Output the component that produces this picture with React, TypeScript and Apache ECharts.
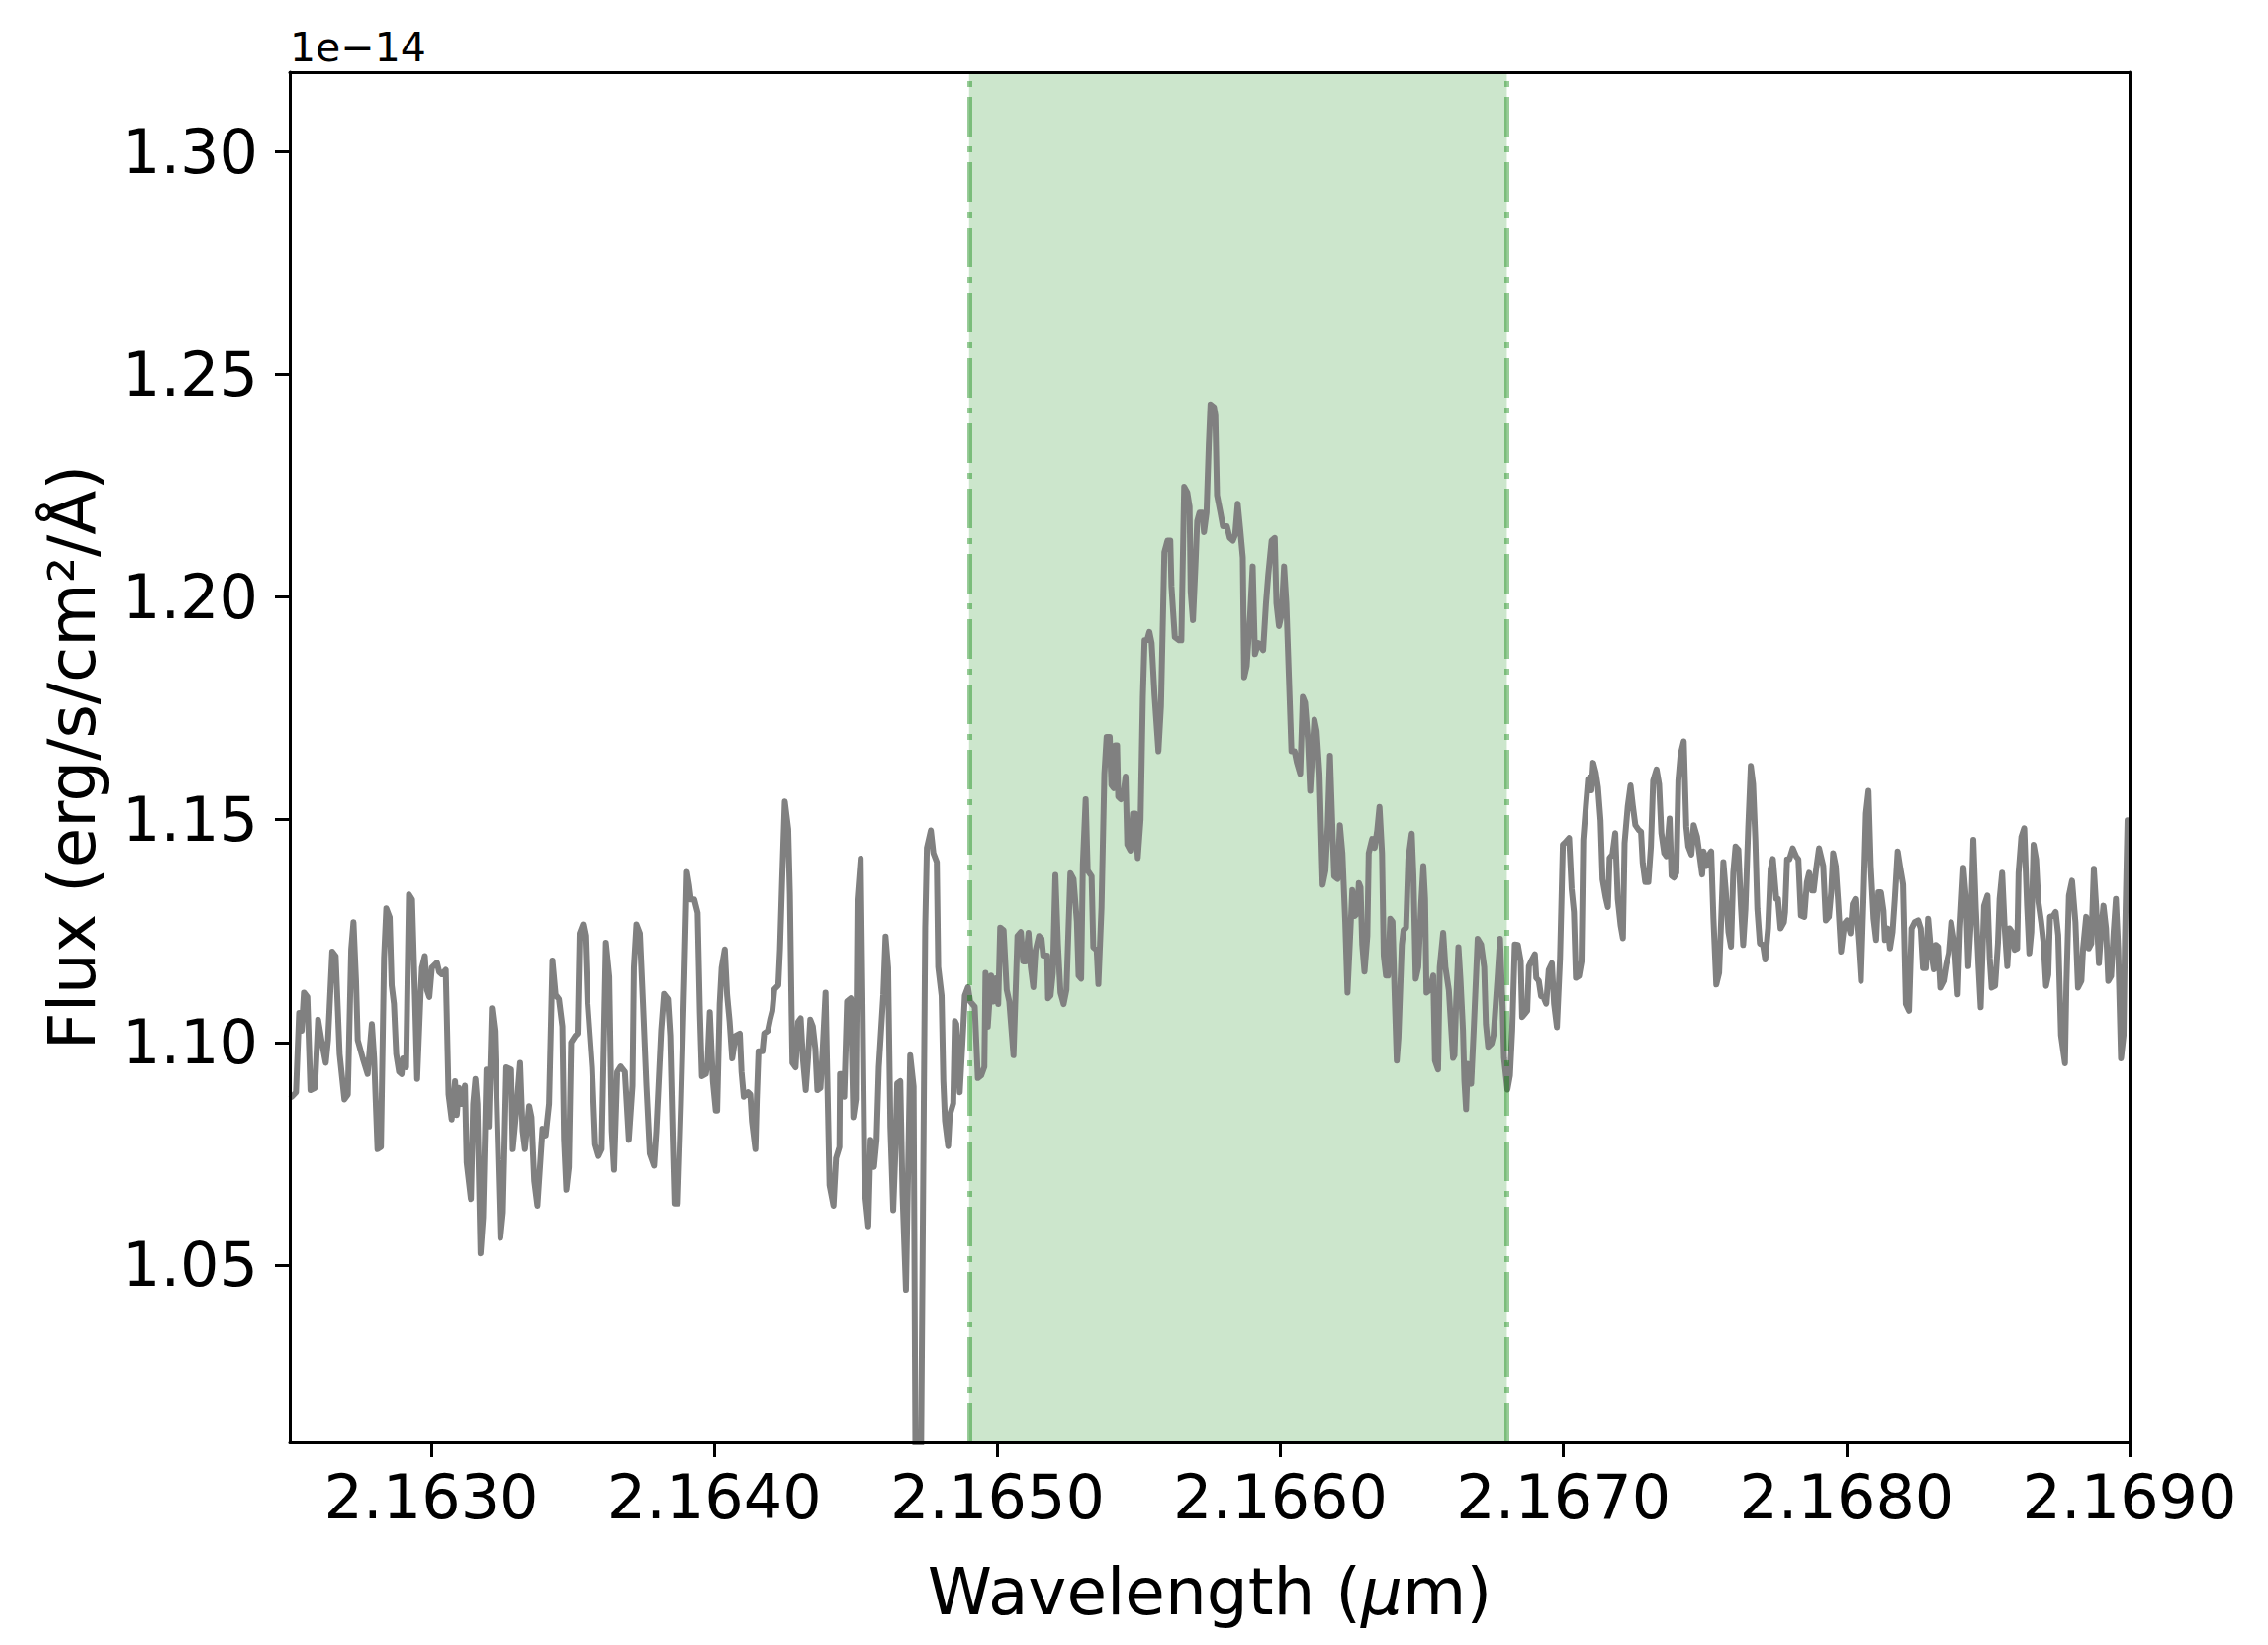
import React, { useEffect, useRef } from "react";
import * as echarts from "echarts";

// Wavelength (µm) and flux (units of 1e-14 erg/s/cm^2/Å)
const wavelength = [
  2.162507, 2.162522, 2.162533, 2.162542, 2.16255, 2.162562, 2.162573, 2.162589, 2.1626, 2.162612,
  2.162627, 2.162635, 2.16265, 2.162662, 2.162676, 2.162693, 2.162705, 2.162717, 2.162725, 2.162734,
  2.16274, 2.162758, 2.162775, 2.16279, 2.162798, 2.16281, 2.162822, 2.162833, 2.162841, 2.162853,
  2.16286, 2.162868, 2.162876, 2.162886, 2.162895, 2.1629, 2.162911, 2.162921, 2.162932, 2.162942,
  2.16295, 2.162962, 2.162967, 2.162977, 2.162985, 2.162993, 2.163002, 2.16302, 2.163028, 2.163037,
  2.163051, 2.163061, 2.163072, 2.163084, 2.16309, 2.163098, 2.163107, 2.163119, 2.163125, 2.16314,
  2.163148, 2.163156, 2.163163, 2.163174, 2.163183, 2.163195, 2.163203, 2.163214, 2.163224, 2.163244,
  2.163253, 2.163265, 2.163282, 2.163288, 2.1633, 2.163314, 2.163323, 2.163331, 2.163346, 2.163354,
  2.163364, 2.163375, 2.163393, 2.163404, 2.163416, 2.163428, 2.163439, 2.163451, 2.163463, 2.163469,
  2.163477, 2.163486, 2.163494, 2.163509, 2.163517, 2.163524, 2.163536, 2.163544, 2.163552, 2.163568,
  2.163579,
  2.163591, 2.163602, 2.163617, 2.163629, 2.163638, 2.163646, 2.163657, 2.163669, 2.163684, 2.163698,
  2.163711, 2.163716, 2.163725, 2.163737, 2.163748, 2.16376, 2.163772, 2.163787, 2.163795, 2.163812,
  2.163822, 2.163836, 2.163844, 2.163853, 2.163859, 2.163871, 2.163882, 2.163894, 2.163903, 2.163911,
  2.163917, 2.163929, 2.163941, 2.163949, 2.163956, 2.16397, 2.163976, 2.163984, 2.163995, 2.164005,
  2.16401, 2.164019, 2.164026, 2.164037, 2.164045, 2.164054, 2.164063, 2.164075, 2.16409, 2.164096,
  2.164104, 2.164119, 2.164127, 2.164133, 2.164145, 2.16415, 2.164156, 2.16417, 2.164176, 2.164189,
  2.164197, 2.164205, 2.164212, 2.164226, 2.164232, 2.16424, 2.164249, 2.164261, 2.164267, 2.164273,
  2.164276, 2.164287, 2.164296, 2.164305, 2.164313, 2.164323, 2.164331, 2.164339, 2.164348, 2.164357,
  2.164364, 2.164375, 2.164383, 2.164393, 2.164401, 2.164407, 2.164421, 2.16443, 2.164442, 2.164444,
  2.164453, 2.164459, 2.164469, 2.164482, 2.164491, 2.1645, 2.164506, 2.164517, 2.164523, 2.164531,
  2.164544, 2.164552, 2.164564, 2.164573, 2.164581, 2.164597, 2.164605, 2.164614, 2.164622, 2.164632,
  2.16464, 2.164646, 2.164657, 2.164665, 2.164677,
  2.164692, 2.164704, 2.164711, 2.16472, 2.16473, 2.164745, 2.164751, 2.164765, 2.164774, 2.164786,
  2.164791, 2.164803, 2.164809, 2.164815, 2.164826, 2.164832, 2.164844, 2.16485, 2.164855, 2.164867,
  2.164879, 2.164885, 2.164896, 2.164904, 2.16492, 2.164931, 2.164943, 2.164954, 2.164958, 2.164966,
  2.164978, 2.164986, 2.164995, 2.165003, 2.16501, 2.165022, 2.165033, 2.165042, 2.165057, 2.165071,
  2.165083, 2.165091, 2.1651, 2.16511, 2.165118, 2.165127, 2.165135, 2.165147, 2.165156, 2.165162,
  2.165176, 2.165179, 2.165188, 2.165196, 2.165205, 2.165214, 2.165223, 2.165234, 2.165244, 2.165258,
  2.165269, 2.165281, 2.165287, 2.165296, 2.165302, 2.165312, 2.165319, 2.165333, 2.165339, 2.165351,
  2.165357, 2.165368, 2.165378, 2.165386, 2.165397, 2.165403, 2.165411, 2.165417, 2.165423, 2.165427,
  2.165436, 2.165444, 2.165453, 2.165459, 2.16547, 2.165479, 2.165487, 2.165496, 2.165506, 2.165514,
  2.16552, 2.165529, 2.165537, 2.165545, 2.165555, 2.165569, 2.165578, 2.16559, 2.165601, 2.165611,
  2.165615, 2.165627, 2.165642, 2.16565, 2.16566, 2.165671, 2.165679, 2.165683, 2.165691, 2.1657,
  2.165706, 2.165714, 2.165724, 2.16573, 2.165739, 2.165747, 2.165753, 2.165765,
  2.16577, 2.165776, 2.165788, 2.165797, 2.165811, 2.165821, 2.165832, 2.16584, 2.165849, 2.165858,
  2.165867, 2.165872, 2.165881, 2.165893, 2.165902, 2.16591, 2.165922, 2.165939, 2.165949, 2.165957,
  2.165969, 2.16598, 2.165986, 2.165995, 2.166004, 2.166013, 2.166021, 2.16603, 2.166039, 2.16605,
  2.166058, 2.16607, 2.166079, 2.166087, 2.166097, 2.166105, 2.166112, 2.16612, 2.166128, 2.166138,
  2.166149, 2.166159, 2.166167, 2.166175, 2.166184, 2.16619, 2.166202, 2.16621, 2.166219, 2.166229,
  2.166237, 2.166245, 2.166254, 2.166263, 2.166272, 2.166277, 2.166283, 2.166289, 2.166297, 2.166307,
  2.166312, 2.166324, 2.166333, 2.166342, 2.16635, 2.166359, 2.166365, 2.166373, 2.16638, 2.166388,
  2.166396, 2.166403, 2.166411, 2.166417, 2.166429, 2.166435, 2.166444, 2.166452, 2.166464, 2.16647,
  2.166478, 2.166487, 2.166497, 2.166505, 2.166511, 2.166516, 2.166528, 2.16654, 2.166546, 2.166557,
  2.166563, 2.166575, 2.166583, 2.166595, 2.16661, 2.166615, 2.166621, 2.166629, 2.166636, 2.166645,
  2.16665, 2.166656, 2.166662, 2.166674, 2.166683, 2.166697, 2.166709, 2.16672, 2.166726, 2.166734,
  2.166746, 2.166753, 2.166767, 2.166776, 2.166785, 2.16679, 2.166802, 2.166811, 2.166819, 2.166828,
  2.166839, 2.166849, 2.166854, 2.166863, 2.166872, 2.166878, 2.166889, 2.166899, 2.166904, 2.166913,
  2.166921, 2.16693, 2.166939, 2.166948, 2.166959, 2.166967, 2.166977, 2.166988, 2.166998, 2.167009,
  2.16702, 2.167029, 2.167037, 2.167044, 2.167055, 2.167064, 2.16707, 2.167079, 2.167087, 2.167093,
  2.167099, 2.167105, 2.167114, 2.167122, 2.167131, 2.167138, 2.167149, 2.167157, 2.167163, 2.167173,
  2.167183, 2.167192, 2.167202, 2.16721, 2.167216, 2.167227, 2.167237, 2.167245, 2.167254, 2.167266,
  2.167274, 2.16728, 2.167289, 2.1673, 2.167309, 2.167317, 2.167329, 2.167338, 2.167346, 2.167356,
  2.167364, 2.167375, 2.167382, 2.16739, 2.167399, 2.167406, 2.167414, 2.167425, 2.167434, 2.167441,
  2.167452, 2.16746, 2.167472, 2.16748, 2.16749, 2.167495, 2.167505, 2.167515, 2.167522, 2.16753,
  2.16754, 2.16755, 2.167557, 2.167565, 2.167573, 2.167583, 2.167592, 2.1676, 2.167608, 2.167618,
  2.167627, 2.167635, 2.167643, 2.167653, 2.167662, 2.16767, 2.167678, 2.167685, 2.167694, 2.167705,
  2.167713, 2.167723, 2.167732, 2.16774, 2.167752, 2.167758, 2.167767, 2.167779, 2.167783, 2.16779,
  2.167798, 2.16781, 2.167822, 2.16783, 2.167839, 2.167851, 2.16786, 2.167868, 2.167878, 2.167884,
  2.167892, 2.167903,
  2.167918, 2.167927, 2.167938, 2.167946, 2.167953, 2.167962, 2.16797, 2.167981, 2.167993, 2.168002,
  2.168014, 2.168022, 2.168031, 2.168043, 2.168051, 2.168061, 2.168069, 2.168078, 2.168086, 2.168096,
  2.168105, 2.168113, 2.168122, 2.168131, 2.168136, 2.168146, 2.168154, 2.168163, 2.168171, 2.168181,
  2.168189, 2.1682, 2.16821, 2.168221, 2.16823, 2.168241, 2.168253, 2.168262, 2.16827, 2.16828,
  2.168288, 2.168297, 2.168308, 2.168315, 2.168323, 2.168331, 2.168343, 2.168352, 2.168361, 2.16837,
  2.168381, 2.168393, 2.168401, 2.168413, 2.168422, 2.16843, 2.168439, 2.168448, 2.168457, 2.168466,
  2.168474, 2.168486, 2.168498, 2.168506, 2.168513, 2.168525, 2.168535, 2.168541, 2.16855, 2.168559,
  2.168568, 2.168576, 2.168585, 2.168594, 2.168603, 2.168608, 2.168618, 2.168628, 2.168638, 2.168646,
  2.168653, 2.168661, 2.16867, 2.168678, 2.168688, 2.168696, 2.168705, 2.168713, 2.168719, 2.168731,
  2.168739, 2.168748, 2.168758, 2.168772, 2.168777, 2.168786, 2.168797, 2.168809, 2.168818, 2.16883,
  2.168836, 2.168847, 2.168856, 2.168865, 2.168874, 2.168882, 2.168892, 2.1689, 2.168908, 2.168917,
  2.168925, 2.168935, 2.168944, 2.168952, 2.16896, 2.16897, 2.168979, 2.168984, 2.168993,
];

const flux = [
  1.0878, 1.0888, 1.1066, 1.1026, 1.1112, 1.1102, 1.0893, 1.0898, 1.1051, 1.1005,
  1.0954, 1.1005, 1.1204, 1.1194, 1.0974, 1.0872, 1.0883, 1.1209, 1.127, 1.1138,
  1.1005, 1.0964, 1.0929, 1.1041, 1.0964, 1.076, 1.0765, 1.1189, 1.1301, 1.1281,
  1.1128, 1.1087, 1.0974, 1.0934, 1.0929, 1.0964, 1.0944, 1.1332, 1.1321, 1.1107,
  1.0918, 1.1107, 1.1168, 1.1194, 1.1117, 1.1102, 1.1168, 1.1179, 1.1158, 1.1153,
  1.1163, 1.0883, 1.0827, 1.0913, 1.0837, 1.0898, 1.0862, 1.0903, 1.073, 1.0648,
  1.0862, 1.0918, 1.0862, 1.0526, 1.0607, 1.0939, 1.0811, 1.1077, 1.1026, 1.0561,
  1.0618, 1.0944, 1.0939, 1.076, 1.0842, 1.0954, 1.0801, 1.076, 1.0857, 1.0832,
  1.0689, 1.0633, 1.0806, 1.0791, 1.0862, 1.1184, 1.1107, 1.1097, 1.1036, 1.0781,
  1.0669, 1.072, 1.1, 1.1015, 1.102, 1.1245, 1.1265, 1.124, 1.1087, 1.0944,
  1.0771,
  1.0745, 1.076, 1.1224, 1.1148, 1.0801, 1.0714, 1.0934, 1.0946, 1.0934, 1.0781,
  1.0903, 1.1168, 1.1265, 1.1245, 1.1087, 1.0903, 1.075, 1.0723, 1.0801, 1.1026,
  1.1109, 1.1097, 1.1015, 1.0781, 1.0638, 1.0638, 1.0862, 1.1148, 1.1383, 1.1352,
  1.1321, 1.1321, 1.1291, 1.1066, 1.0924, 1.0929, 1.0954, 1.1068, 1.0913, 1.0847,
  1.0847, 1.1087, 1.1168, 1.1209, 1.1107, 1.1046, 1.0964, 1.1015, 1.102, 1.0934,
  1.0878, 1.0888, 1.0883, 1.0822, 1.076, 1.0872, 1.098, 1.098, 1.102, 1.1026,
  1.1051, 1.1071, 1.1119, 1.1128, 1.1209, 1.1372, 1.1541, 1.1479, 1.1332, 1.1066,
  1.0954, 1.0944, 1.1046, 1.1054, 1.0964, 1.0893, 1.0964, 1.1051, 1.1036, 1.0985,
  1.0893, 1.0898, 1.0985, 1.1112, 1.0862, 1.0679, 1.0633, 1.074, 1.0765, 1.0929,
  1.0929, 1.0878, 1.1092, 1.1099, 1.0832, 1.0872, 1.1321, 1.1413, 1.1117, 1.0668,
  1.0587, 1.0781, 1.072, 1.0781, 1.0944, 1.1107, 1.1238, 1.1168, 1.0811, 1.0623,
  1.076, 1.0908, 1.0913, 1.0658, 1.0444,
  1.0971, 1.0901, 1.0, 0.992, 1.005, 1.1258, 1.1437, 1.1476, 1.1425, 1.1405,
  1.1169, 1.1105, 1.0914, 1.0824, 1.0767, 1.0837, 1.0863, 1.1048, 1.1041, 1.0888,
  1.1028, 1.1105, 1.1124, 1.1092, 1.108, 1.092, 1.0926, 1.0945, 1.1156, 1.1035,
  1.115, 1.1092, 1.1144, 1.1086, 1.1258, 1.1252, 1.1118, 1.1092, 1.0971, 1.1239,
  1.1248, 1.1182, 1.1182, 1.1246, 1.1169, 1.1124, 1.1207, 1.1239, 1.1233, 1.1195,
  1.1195, 1.1099, 1.1105, 1.1156, 1.1376, 1.122, 1.1112, 1.1086, 1.1118, 1.138,
  1.1367, 1.1271, 1.115, 1.1143, 1.1399, 1.1546, 1.1386, 1.1373, 1.1214, 1.1207,
  1.1131, 1.1303, 1.1603, 1.1686, 1.1686, 1.1578, 1.1571, 1.1667, 1.1667, 1.1552,
  1.1546, 1.1552, 1.1597, 1.1444, 1.1431, 1.1514, 1.1514, 1.1414, 1.1501, 1.1776,
  1.1903, 1.1903, 1.1922, 1.1897, 1.1782, 1.1654, 1.1756, 1.2101, 1.2127, 1.2127,
  1.2025, 1.191, 1.1903, 1.1903, 1.2248, 1.2235, 1.2203, 1.2012, 1.1948, 1.2075,
  1.2171, 1.219, 1.219, 1.2146, 1.219, 1.2344, 1.2433, 1.2427,
  1.2408, 1.2229, 1.219, 1.2159, 1.2159, 1.2133, 1.2127, 1.214, 1.221, 1.2152,
  1.2089, 1.182, 1.1846, 1.1961, 1.2069, 1.1872, 1.1897, 1.1881, 1.1986, 1.205,
  1.2127, 1.2133, 1.1986, 1.1935, 1.1961, 1.2069, 1.1986, 1.182, 1.1654, 1.1654,
  1.1629, 1.1603, 1.1776, 1.1763, 1.168, 1.1565, 1.1642, 1.1725, 1.1699, 1.1603,
  1.1354, 1.1386, 1.1488, 1.1644, 1.1476, 1.1373, 1.1367, 1.1488, 1.1425, 1.1271,
  1.1112, 1.122, 1.1342, 1.1284, 1.1291, 1.1358, 1.1348, 1.122, 1.1159, 1.1239,
  1.1425, 1.1457, 1.1437, 1.1476, 1.1529, 1.1425, 1.1195, 1.115, 1.115, 1.1278,
  1.1271, 1.1118, 1.0959, 1.101, 1.122, 1.1252, 1.1258, 1.1412, 1.1469, 1.1373,
  1.1143, 1.1169, 1.1309, 1.1396, 1.1322, 1.1112, 1.1118, 1.115, 1.0959, 1.0939,
  1.1169, 1.1246, 1.1169, 1.1118, 1.0965, 1.0971, 1.1092, 1.1214, 1.1143, 1.1028,
  1.0914, 1.085, 1.0952, 1.0907, 1.1028, 1.1233, 1.122, 1.1169, 1.1041, 1.099,
  1.0997, 1.1016, 1.1143, 1.1233, 1.108, 1.0965, 1.0894, 1.0926, 1.1028, 1.122,
  1.1219, 1.1182, 1.1057, 1.1064, 1.1071, 1.1171, 1.1186, 1.1198, 1.1145, 1.1138,
  1.1104, 1.1101, 1.1087, 1.1163, 1.1178, 1.1086, 1.1034, 1.1189, 1.1444, 1.1451,
  1.1459, 1.1344, 1.1293, 1.1145, 1.1149, 1.1182, 1.1455, 1.1529, 1.1591, 1.1595,
  1.1566, 1.1628, 1.1606, 1.1573, 1.1499, 1.1366, 1.1326, 1.1304, 1.1414, 1.1422,
  1.147, 1.1322, 1.1263, 1.1234, 1.1448, 1.1529, 1.1577, 1.1532, 1.1488, 1.1477,
  1.1473, 1.1403, 1.136, 1.136, 1.144, 1.1588, 1.1613, 1.158, 1.147, 1.1425,
  1.1418, 1.1503, 1.1374, 1.137, 1.1381, 1.1588, 1.1647, 1.1676, 1.1484, 1.144,
  1.1422, 1.1488, 1.1462, 1.1425, 1.1377, 1.1429, 1.1396, 1.1422, 1.1429, 1.1278,
  1.113, 1.1156, 1.127, 1.1405, 1.1344, 1.1248, 1.1215, 1.1381, 1.144, 1.1433,
  1.1307, 1.1219, 1.13, 1.1484, 1.1621, 1.158, 1.1455, 1.13, 1.1222, 1.1219,
  1.1186, 1.1256, 1.1389, 1.1412, 1.1322, 1.1322, 1.1256, 1.127, 1.1293, 1.1411,
  1.1411, 1.1436, 1.1418, 1.1411, 1.1285, 1.1282, 1.1359, 1.1381, 1.1341, 1.1341,
  1.1385, 1.1436,
  1.1396, 1.1274, 1.1282, 1.1337, 1.1425, 1.1396, 1.1322, 1.1204, 1.1267, 1.1274,
  1.1245, 1.1311, 1.1322, 1.1219, 1.1138, 1.1337, 1.1514, 1.1565, 1.1396, 1.1278,
  1.123, 1.1337, 1.1337, 1.1296, 1.123, 1.1256, 1.1211, 1.1248, 1.1322, 1.1429,
  1.1396, 1.1355, 1.1086, 1.1071, 1.1256, 1.127, 1.1274, 1.1256, 1.1167, 1.1167,
  1.1278, 1.1211, 1.1164, 1.1219, 1.1215, 1.1123, 1.1138, 1.1175, 1.12, 1.127,
  1.1226, 1.1108, 1.1256, 1.1392, 1.1322, 1.1171, 1.127, 1.1455, 1.13, 1.1175,
  1.1079, 1.1307, 1.133, 1.1189, 1.1123, 1.1127, 1.1222, 1.1322, 1.1381, 1.1256,
  1.1171, 1.1256, 1.1248, 1.1208, 1.1211, 1.1381, 1.1462, 1.1481, 1.1307, 1.12,
  1.1248, 1.1444, 1.1411, 1.1315, 1.127, 1.1226, 1.1127, 1.1152, 1.1282, 1.1285,
  1.1293, 1.1241, 1.1016, 1.0953, 1.113, 1.133, 1.1363, 1.127, 1.1123, 1.1138,
  1.1211, 1.1282, 1.1211, 1.1222, 1.139, 1.1307, 1.1178, 1.1252, 1.1307, 1.1256,
  1.1138, 1.1149, 1.1248, 1.1322, 1.1211, 1.0964, 1.1016, 1.1234, 1.1499,
];

const xTicks = [2.163, 2.164, 2.165, 2.166, 2.167, 2.168, 2.169];
const yTicks = [1.05, 1.1, 1.15, 1.2, 1.25, 1.3];
const xRange = [2.1625, 2.169];
const yRange = [1.0102, 1.3179];
const bandEdges = [2.1649, 2.1668];

const FONT = "DejaVu Sans";

export default function App() {
  const ref = useRef<HTMLDivElement>(null);

  useEffect(() => {
    if (!ref.current) return;
    const chart = echarts.init(ref.current, null, { renderer: "svg" });
    const spectrum = wavelength.map((w, i) => [w, flux[i]]);

    const gridL = 293, gridT = 73, gridW = 1860, gridH = 1385;

    const spine = { show: true, lineStyle: { color: "#000", width: 3 } };
    const hidden = { show: false };

    const option: any = {
      animation: false,
      backgroundColor: "#fff",
      grid: { left: gridL, top: gridT, width: gridW, height: gridH, containLabel: false },
      xAxis: [
        {
          type: "value",
          min: xRange[0],
          max: xRange[1],
          position: "bottom",
          z: 10,
          axisLine: spine,
          axisTick: {
            show: true,
            inside: false,
            length: 15,
            lineStyle: { color: "#000", width: 3 },
            customValues: xTicks,
          },
          axisLabel: {
            show: true,
            margin: 24,
            fontSize: 62,
            fontFamily: FONT,
            color: "#000",
            customValues: xTicks,
            formatter: (v: number) => v.toFixed(4),
          },
          splitLine: hidden,
        },
        {
          type: "value",
          min: xRange[0],
          max: xRange[1],
          position: "top",
          z: 10,
          axisLine: spine,
          axisTick: hidden,
          axisLabel: hidden,
          splitLine: hidden,
        },
      ],
      yAxis: [
        {
          type: "value",
          min: yRange[0],
          max: yRange[1],
          position: "left",
          z: 10,
          axisLine: spine,
          axisTick: {
            show: true,
            inside: false,
            length: 15,
            lineStyle: { color: "#000", width: 3 },
            customValues: yTicks,
          },
          axisLabel: {
            show: true,
            margin: 32,
            fontSize: 62,
            fontFamily: FONT,
            color: "#000",
            customValues: yTicks,
            formatter: (v: number) => v.toFixed(2),
          },
          splitLine: hidden,
        },
        {
          type: "value",
          min: yRange[0],
          max: yRange[1],
          position: "right",
          z: 10,
          axisLine: spine,
          axisTick: hidden,
          axisLabel: hidden,
          splitLine: hidden,
        },
      ],
      series: [
        {
          type: "line",
          name: "band",
          data: [],
          z: 1,
          silent: true,
          markArea: {
            silent: true,
            itemStyle: { color: "rgba(0,128,0,0.2)" },
            data: [[{ xAxis: bandEdges[0] }, { xAxis: bandEdges[1] }]],
          },
        },
        {
          type: "line",
          name: "spectrum",
          data: spectrum,
          z: 3,
          showSymbol: false,
          symbol: "none",
          clip: true,
          lineStyle: { color: "#808080", width: 6, join: "round", cap: "round" },
          markLine: {
            silent: true,
            symbol: ["none", "none"],
            label: { show: false },
            emphasis: { disabled: true },
            lineStyle: {
              color: "rgba(0,128,0,0.4)",
              width: 5,
              type: [40, 10, 6, 10],
            },
            data: bandEdges.map((x) => [
              { coord: [x, yRange[0]] },
              { coord: [x, yRange[1]] },
            ]),
          },
        },
      ],
      graphic: [
        {
          type: "text",
          x: gridL,
          y: 48,
          style: {
            text: "1e\u221214",
            fontSize: 41,
            fontFamily: FONT,
            fill: "#000",
            align: "left",
            verticalAlign: "middle",
          },
        },
        {
          type: "text",
          x: gridL + gridW / 2,
          y: 1609,
          style: {
            text: "Wavelength ({it|\u03bc}m)",
            fontSize: 66,
            fontFamily: FONT,
            fill: "#000",
            align: "center",
            verticalAlign: "middle",
            rich: {
              it: { fontSize: 66, fontFamily: FONT, fontStyle: "italic", fill: "#000" },
            },
          },
        },
        {
          type: "text",
          x: 73,
          y: gridT + gridH / 2,
          rotation: Math.PI / 2,
          style: {
            text: "Flux (erg/s/cm\u00b2/\u00c5)",
            fontSize: 66,
            fontFamily: FONT,
            fill: "#000",
            align: "center",
            verticalAlign: "middle",
          },
        },
      ],
    };

    chart.setOption(option);
    return () => chart.dispose();
  }, []);

  return (
    <div
      ref={ref}
      style={{ position: "absolute", left: 0, top: 0, width: 2293, height: 1663 }}
    />
  );
}
